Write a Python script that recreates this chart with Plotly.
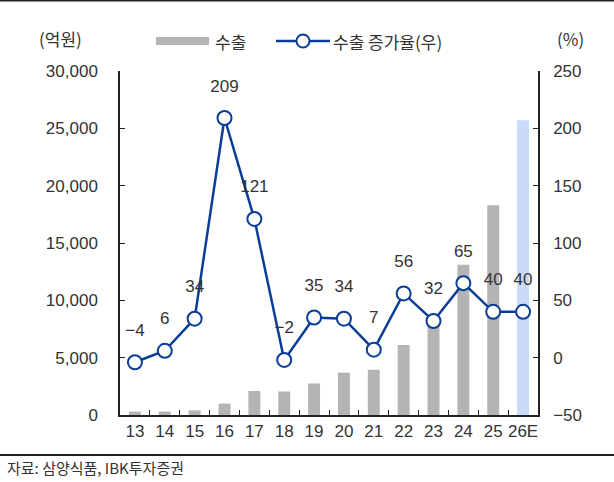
import plotly.graph_objects as go

categories = ["13", "14", "15", "16", "17", "18", "19", "20", "21", "22", "23", "24", "25", "26E"]
exports = [300, 300, 400, 1000, 2100, 2050, 2750, 3700, 3950, 6100, 8100, 13100, 18300, 25700]
growth = [-4, 6, 34, 209, 121, -2, 35, 34, 7, 56, 32, 65, 40, 40]
left_ticks = [0, 5000, 10000, 15000, 20000, 25000, 30000]
right_ticks = [-50, 0, 50, 100, 150, 200, 250]

BAR_GRAY = "#B4B4B4"
BAR_EST = "#C9DAF8"
LINE_BLUE = "#0A3D96"
bar_colors = [BAR_GRAY] * (len(categories) - 1) + [BAR_EST]
NUM_FONT = "Liberation Sans, Arial, sans-serif"
KR_FONT = "Noto Sans CJK KR, sans-serif"
TXT = "#333333"

fig = go.Figure()
fig.add_trace(go.Bar(
    x=categories, y=exports, name="수출",
    marker=dict(color=bar_colors, line=dict(width=0)),
    width=0.4, yaxis="y", showlegend=False,
))
fig.add_trace(go.Scatter(
    x=categories, y=growth, name="수출 증가율(우)", yaxis="y2",
    mode="lines+markers",
    line=dict(color=LINE_BLUE, width=2.5),
    marker=dict(size=14, color="white", line=dict(color=LINE_BLUE, width=2)),
    cliponaxis=False, showlegend=False,
))
# data labels (transparent larger marker gives the label offset)
fig.add_trace(go.Scatter(
    x=categories, y=growth, yaxis="y2", mode="markers+text",
    marker=dict(size=34, color="rgba(0,0,0,0)"),
    text=[f"{v:d}".replace("-", "\u2212") for v in growth],
    textposition="top center",
    textfont=dict(family=NUM_FONT, size=17, color=TXT),
    cliponaxis=False, showlegend=False, hoverinfo="skip",
))

axis_common = dict(
    showline=True, linecolor="#222", linewidth=1.5,
    ticks="inside", ticklen=5, tickcolor="#222",
    tickfont=dict(family=NUM_FONT, size=17, color=TXT),
    showgrid=False, automargin=False,
)

fig.update_layout(
    width=614, height=482,
    margin=dict(l=120, r=76, t=71, b=67),
    paper_bgcolor="white", plot_bgcolor="white",
    showlegend=False,
    xaxis=dict(type="category", tickson="boundaries", tickangle=0,
               range=[-0.5, len(categories) - 0.5], **axis_common),
    yaxis=dict(range=[0, 30000], tickvals=left_ticks, tickformat=",",
               zeroline=False, ticklabelstandoff=17, **axis_common),
    yaxis2=dict(range=[-50, 250], tickvals=right_ticks, overlaying="y", side="right",
                zeroline=False, ticklabelstandoff=10, **axis_common),
    annotations=[
        dict(text="(억원)", xref="paper", yref="paper", x=-0.1435, y=1.0959,
             xanchor="center", yanchor="middle", showarrow=False,
             font=dict(family=KR_FONT, size=17, color=TXT)),
        dict(text="(%)", xref="paper", yref="paper", x=1.0766, y=1.0959,
             xanchor="center", yanchor="middle", showarrow=False,
             font=dict(family=KR_FONT, size=17, color=TXT)),
        dict(text="수출", xref="paper", yref="paper", x=0.2225, y=1.0872,
             xanchor="left", yanchor="middle", showarrow=False,
             font=dict(family=KR_FONT, size=17, color=TXT)),
        dict(text="수출 증가율(우)", xref="paper", yref="paper", x=0.5048, y=1.0872,
             xanchor="left", yanchor="middle", showarrow=False,
             font=dict(family=KR_FONT, size=17, color=TXT)),
        dict(text="자료: 삼양식품, IBK투자증권", xref="paper", yref="paper",
             x=-0.2751, y=-0.1512, xanchor="left", yanchor="middle", showarrow=False,
             font=dict(family=KR_FONT, size=15, color=TXT)),
    ],
    shapes=[
        # legend: bar swatch
        dict(type="rect", xref="paper", yref="paper", x0=0.0861, x1=0.2129,
             y0=1.0756, y1=1.0988, fillcolor=BAR_GRAY, line=dict(width=0)),
        # legend: line swatch
        dict(type="line", xref="paper", yref="paper", x0=0.3732, x1=0.5024,
             y0=1.0872, y1=1.0872, line=dict(color=LINE_BLUE, width=2.5)),
        dict(type="circle", xref="paper", yref="paper", x0=0.4222, x1=0.4533,
             y0=1.0683, y1=1.1061, fillcolor="white", line=dict(color=LINE_BLUE, width=2)),
        # separator lines
        dict(type="line", xref="paper", yref="paper", x0=-0.3, x1=1.3, y0=1.2049, y1=1.2049,
             line=dict(color="#222", width=2)),
        dict(type="line", xref="paper", yref="paper", x0=-0.3, x1=1.3, y0=-0.1163, y1=-0.1163,
             line=dict(color="#222", width=2)),
    ],
)

fig.write_html(
    "out.html",
    config={"displayModeBar": False},
    post_script="document.body.style.margin='0';document.body.style.overflow='hidden';",
)
